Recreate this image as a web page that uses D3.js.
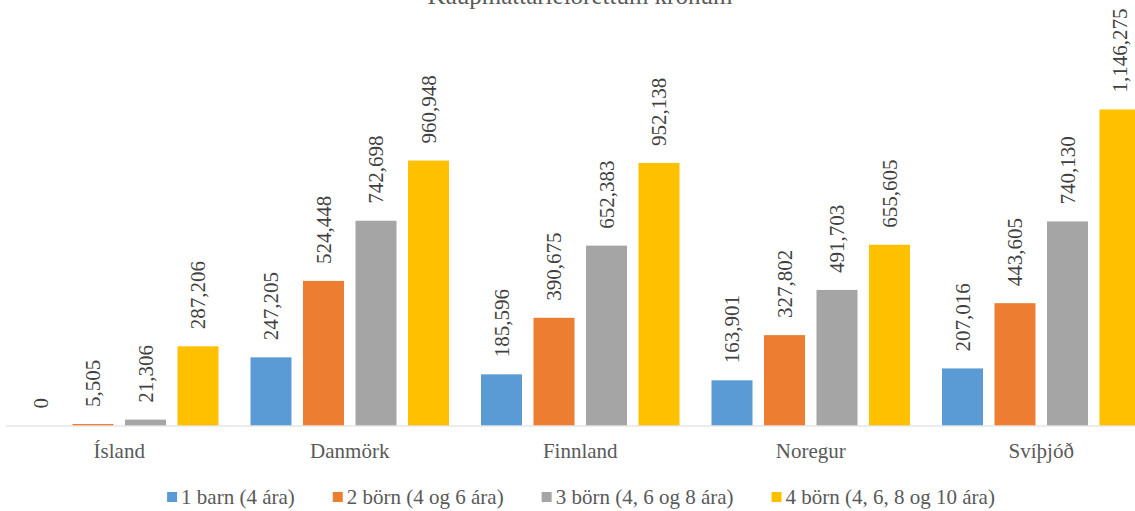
<!DOCTYPE html>
<html>
<head>
<meta charset="utf-8">
<script src="https://cdn.jsdelivr.net/npm/d3@7"></script>
<style>
  html, body { margin: 0; padding: 0; background: #fff; overflow: hidden; }
  svg { display: block; }
  text { font-family: 'Liberation Serif', serif; }
</style>
</head>
<body>
<svg id="chart" width="1135" height="511"></svg>
<script>
const title = "Kaupmáttarleiðréttum krónum";
const categories = ["Ísland", "Danmörk", "Finnland", "Noregur", "Svíþjóð"];
const seriesNames = ["1 barn (4 ára)", "2 börn (4 og 6 ára)", "3 börn (4, 6 og 8 ára)", "4 börn (4, 6, 8 og 10 ára)"];
const series1 = [0, 247205, 185596, 163901, 207016];
const series2 = [5505, 524448, 390675, 327802, 443605];
const series3 = [21306, 742698, 652383, 491703, 740130];
const series4 = [287206, 960948, 952138, 655605, 1146275];
const colors = ["#5B9BD5", "#ED7D31", "#A5A5A5", "#FFC000"];

const FONT = "Liberation Serif";
const allSeries = [series1, series2, series3, series4];
const svg = d3.select("#chart");

const x0 = d3.scaleBand().domain(categories).range([4, 4 + 5 * 230.5]).padding(0);
const x1 = d3.scaleBand().domain(d3.range(4)).range([16, 214.5]).paddingInner(0.219).paddingOuter(0);
const y = d3.scaleLinear().domain([0, 1400000]).range([425.5, 39.5]);

// title (mostly cut off at top, as in the reference)
svg.append("text")
  .attr("x", 580).attr("y", 4)
  .attr("text-anchor", "middle")
  .attr("font-family", FONT)
  .attr("font-size", 25)
  .attr("fill", "#595959")
  .text(title);

const fmt = d3.format(",");

const groups = svg.append("g").selectAll("g")
  .data(categories)
  .join("g")
  .attr("transform", d => `translate(${x0(d)},0)`);

groups.selectAll("rect")
  .data((c, i) => allSeries.map((s, k) => ({ k, v: s[i] })))
  .join("rect")
  .attr("x", d => x1(d.k))
  .attr("width", x1.bandwidth())
  .attr("y", d => y(d.v))
  .attr("height", d => y(0) - y(d.v))
  .attr("fill", d => colors[d.k]);

groups.selectAll("text.lbl")
  .data((c, i) => allSeries.map((s, k) => ({ k, v: s[i] })))
  .join("text")
  .attr("class", "lbl")
  .attr("transform", d => `translate(${x1(d.k) + x1.bandwidth() / 2},${y(d.v) - 17}) rotate(-90)`)
  .attr("dy", "0.35em")
  .attr("text-anchor", "start")
  .attr("font-family", FONT)
  .attr("font-size", 21)
  .attr("fill", "#404040")
  .text(d => fmt(d.v));

// x axis
const xAxis = d3.axisBottom(x0).tickSize(0).tickPadding(0);
const gx = svg.append("g").attr("transform", `translate(0,${y(0)})`).call(xAxis)
  .attr("font-family", FONT);
gx.select(".domain").attr("stroke", "#D9D9D9").attr("stroke-width", 1)
  .attr("d", `M6,0.5H1135`);
gx.selectAll(".tick text")
  .attr("font-family", FONT)
  .attr("font-size", 21)
  .attr("fill", "#595959")
  .attr("dy", null)
  .attr("y", 32.5)
  .attr("x", d => x1.range()[0] + (x1.range()[1] - x1.range()[0]) / 2 - x0.bandwidth() / 2);

// legend
const legend = svg.append("g");
const items = legend.selectAll("g").data(seriesNames).join("g");
items.append("rect")
  .attr("width", 10).attr("height", 10)
  .attr("y", 492)
  .attr("fill", (d, i) => colors[i]);
items.append("text")
  .attr("x", 14).attr("y", 504)
  .attr("font-family", FONT)
  .attr("font-size", 21)
  .attr("fill", "#595959")
  .text(d => d);
let widths = [];
items.each(function() { widths.push(d3.select(this).select("text").node().getComputedTextLength() + 14); });
const gap = 38;
const total = d3.sum(widths) + gap * (widths.length - 1);
let cx = 581 - total / 2;
items.attr("transform", (d, i) => { const t = `translate(${cx},0)`; cx += widths[i] + gap; return t; });
</script>
</body>
</html>
